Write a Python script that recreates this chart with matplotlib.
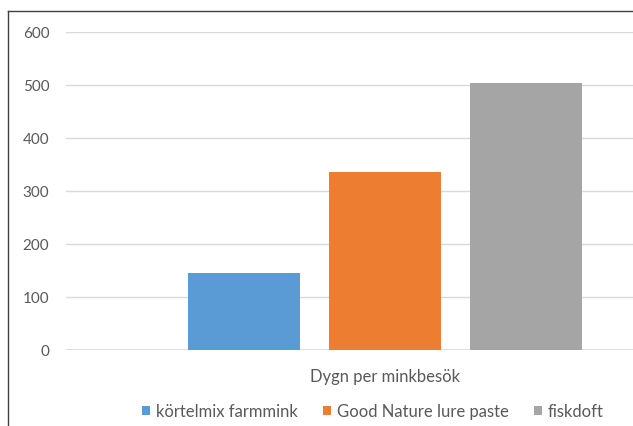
import matplotlib.pyplot as plt
from matplotlib.lines import Line2D
from matplotlib.patches import Patch

category = ["Dygn per minkbesök"]
series = ["körtelmix farmmink", "Good Nature lure paste", "fiskdoft"]
values = [144, 335, 504]
colors = ["#5b9bd5", "#ed7d31", "#a5a5a5"]
yticks = [0, 100, 200, 300, 400, 500, 600]

plt.rcParams["font.family"] = ["Lato", "DejaVu Sans"]

W, H = 633, 427
fig = plt.figure(figsize=(W / 100, H / 100), dpi=100)

# plot area runs off the right edge of the figure
left, right = 66, 704
top, bottom = 33, 350.7
ax = fig.add_axes([left / W, 1 - bottom / H, (right - left) / W, (bottom - top) / H])

offsets = [-0.221, 0.0, 0.221]
for off, v, c, name in zip(offsets, values, colors, series):
    ax.bar(off, v, width=0.1755, color=c, label=name, zorder=3)

ax.set_xlim(-0.5, 0.5)
ax.set_ylim(0, 600)
ax.set_yticks(yticks)
ax.set_yticklabels([str(t) for t in yticks])
ax.set_xticks([0])
ax.set_xticklabels(category)
ax.grid(axis="y", color="#d9d9d9", linewidth=1.0, zorder=0)
ax.tick_params(axis="y", length=0, pad=12, labelsize=11, labelcolor="#595959")
ax.tick_params(axis="x", length=0, pad=13.5, labelsize=12, labelcolor="#595959")
for s in ax.spines.values():
    s.set_visible(False)
ax.axhline(0, color="#d9d9d9", linewidth=1.2, zorder=2)

# chart border (only top and left sides are within the figure)
fig.add_artist(Line2D([8 / W, 1.0], [1 - 12 / H, 1 - 12 / H], color="#404040", linewidth=1.0))
fig.add_artist(Line2D([8 / W, 8 / W], [1 - 12 / H, 0.0], color="#404040", linewidth=1.0))

handles = [Patch(facecolor=c, edgecolor="none") for c in colors]
fig.legend(handles, series, loc="center", bbox_to_anchor=(373 / W, 1 - 412 / H),
           ncol=3, frameon=False, fontsize=12, labelcolor="#595959",
           handlelength=0.45, handleheight=0.45, handletextpad=0.35, columnspacing=1.55)

fig.savefig("out.png", dpi=100)
